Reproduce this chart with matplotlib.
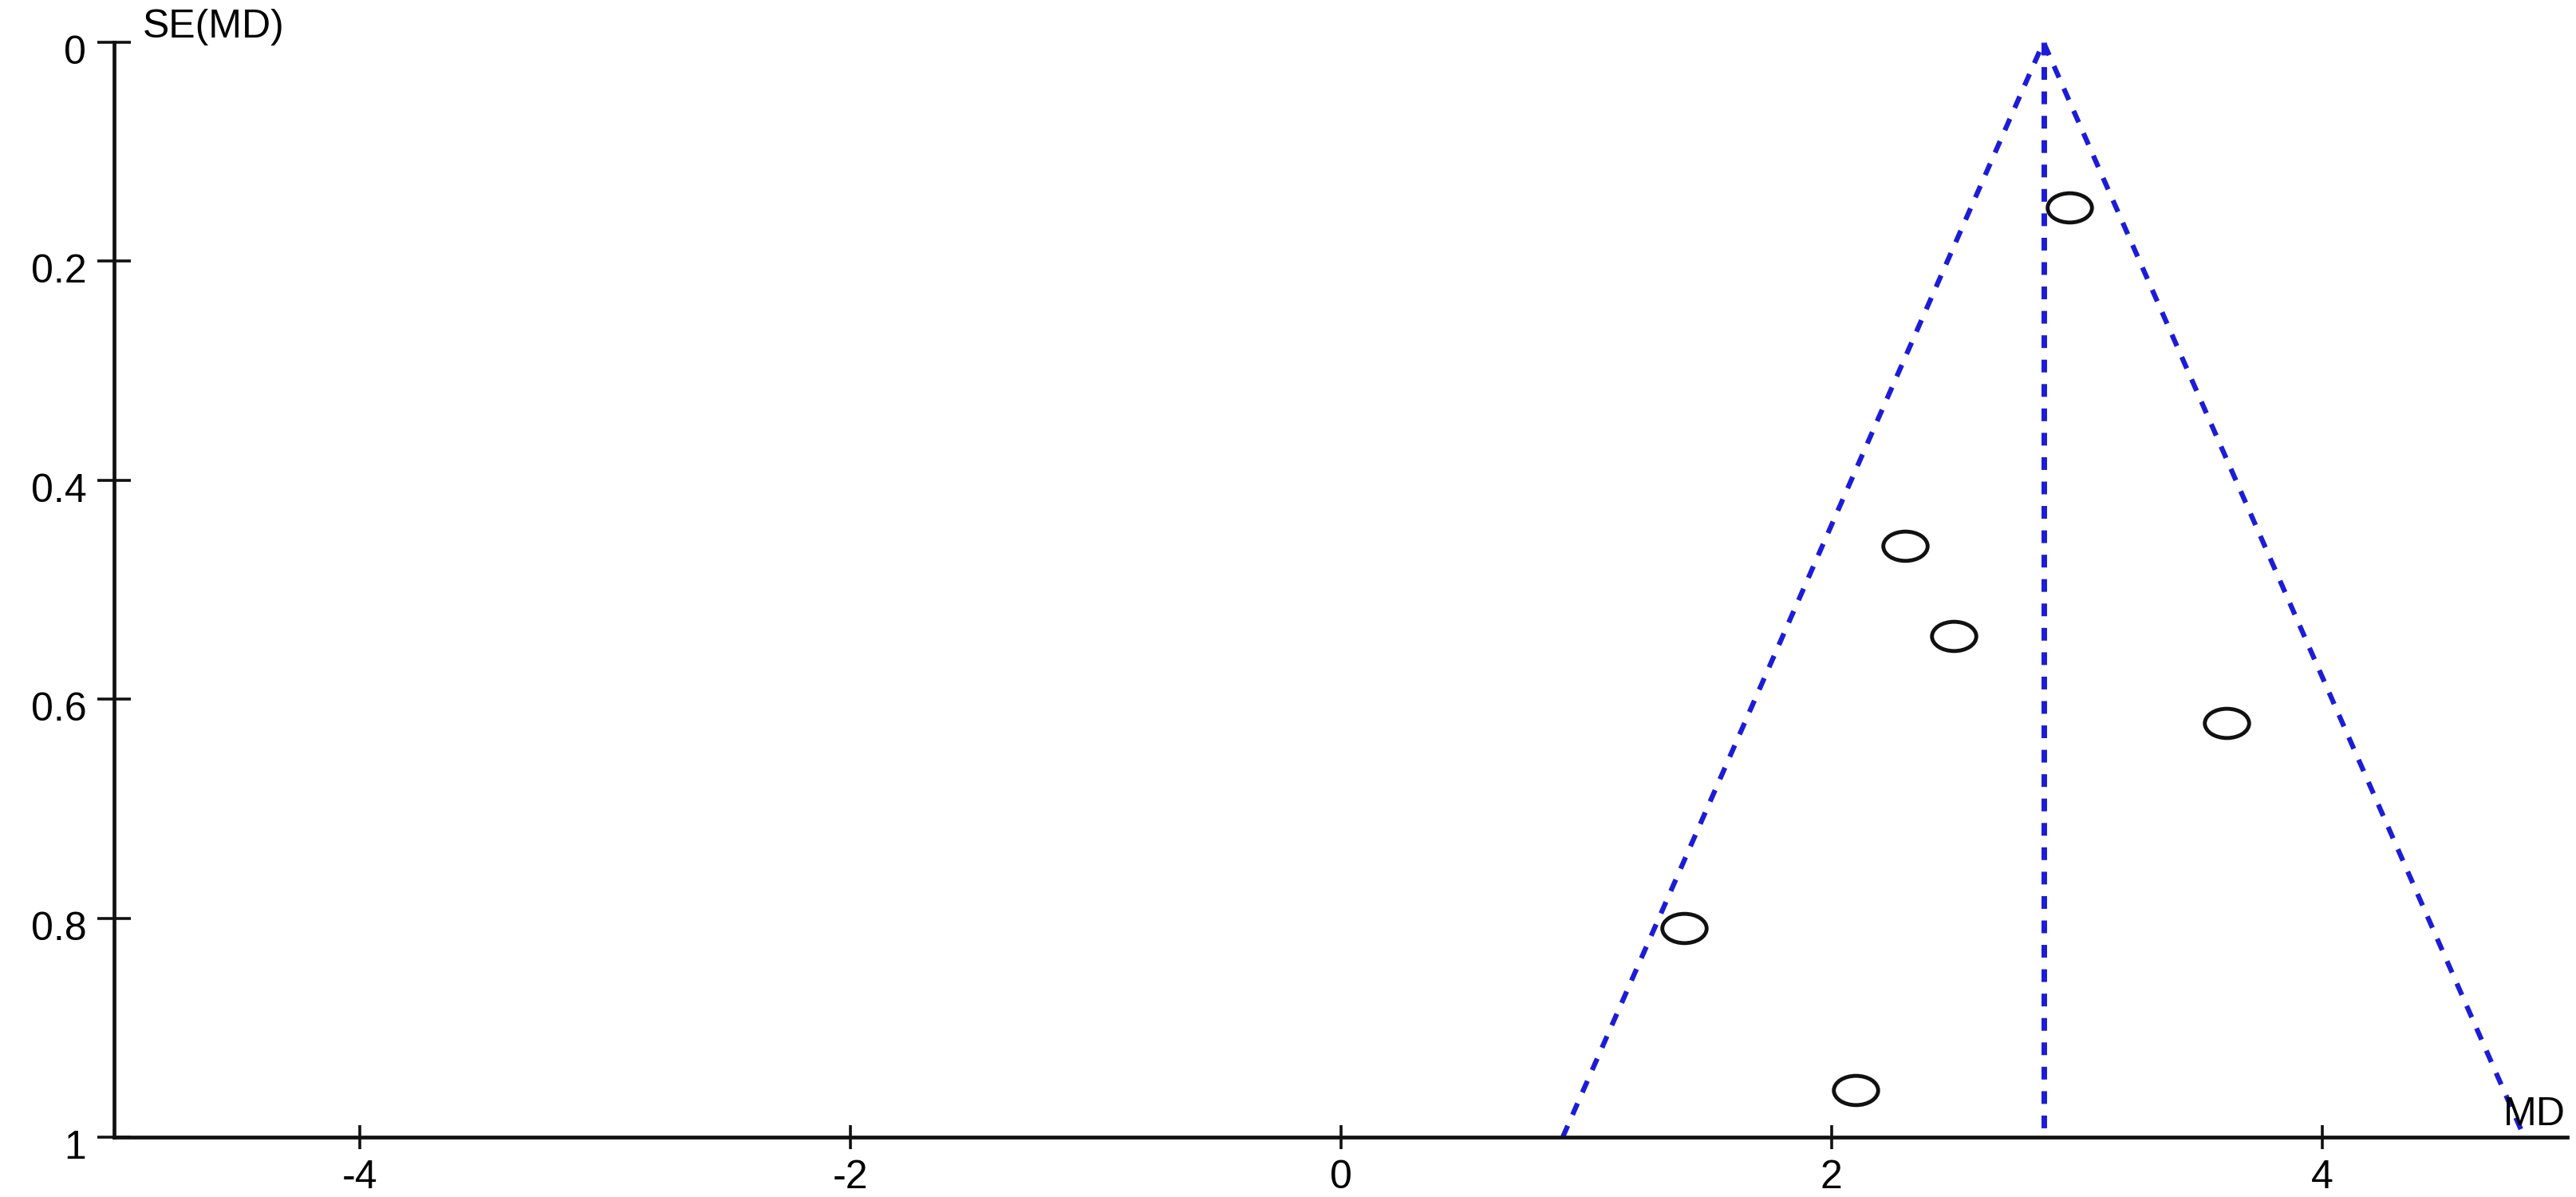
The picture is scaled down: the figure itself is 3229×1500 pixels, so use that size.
import matplotlib
matplotlib.use('Agg')
import matplotlib.pyplot as plt
import numpy as np
from matplotlib.path import Path
from matplotlib.transforms import ScaledTranslation

# ---- data ----
MD = [2.97, 2.30, 2.50, 3.61, 1.40, 2.10]
SE = [0.151, 0.460, 0.542, 0.622, 0.809, 0.957]
POOLED_MD = 2.865
SE_MAX = 1.0
X_TICKS = [-4, -2, 0, 2, 4]
Y_TICKS = [0, 0.2, 0.4, 0.6, 0.8, 1]

DPI = 100
BLUE = '#1c1cd8'
INK = '#111111'
FONT = ['Liberation Sans', 'DejaVu Sans']
FS = 36

plt.rcParams['font.family'] = FONT
plt.rcParams['axes.unicode_minus'] = False

fig = plt.figure(figsize=(32.3, 15), dpi=DPI)
ax = fig.add_axes([0.0443, 0.05, 0.9520, 0.9147])

# funnel (95% limits) and pooled line
ax.plot([POOLED_MD - 1.96 * SE_MAX, POOLED_MD, POOLED_MD + 1.96 * SE_MAX],
        [SE_MAX, 0, SE_MAX], color=BLUE, lw=4.5, dashes=(2.5, 2.4), zorder=2)
ax.plot([POOLED_MD, POOLED_MD], [0, SE_MAX], color=BLUE, lw=5.0,
        dashes=(2.3, 2.1), zorder=2)

# studies: open ellipses (the source image is stretched horizontally)
circ = Path.unit_circle()
ell = Path(circ.vertices * np.array([1.0, 0.66]), circ.codes)
ax.plot(MD, SE, linestyle='none', marker=ell, markersize=40,
        markerfacecolor='none', markeredgecolor=INK, markeredgewidth=3.5,
        zorder=3)

ax.set_xlim(-5, 5)
ax.set_ylim(1, 0)
ax.set_xticks(X_TICKS)
ax.set_yticks(Y_TICKS)
ax.set_yticklabels(['%g' % v for v in Y_TICKS])

for s in ['top', 'right']:
    ax.spines[s].set_visible(False)
for s in ['left', 'bottom']:
    ax.spines[s].set_linewidth(3.4)
    ax.spines[s].set_color(INK)

ax.tick_params(axis='x', direction='inout', length=22, width=2.6,
               pad=9, labelsize=FS, color=INK)
ax.tick_params(axis='y', direction='inout', length=30, width=2.6,
               pad=10, labelsize=FS, color=INK)

# y labels sit a little below their ticks in the original
for lab in ax.get_yticklabels():
    lab.set_transform(lab.get_transform() +
                      ScaledTranslation(0, -9 / DPI, fig.dpi_scale_trans))

ax.annotate('SE(MD)', xy=(-5, 0), xycoords='data', xytext=(26, 4),
            textcoords='offset points', ha='left', va='baseline', fontsize=FS)
ax.annotate('MD', xy=(5, 1), xycoords='data', xytext=(-2, 11),
            textcoords='offset points', ha='right', va='baseline', fontsize=FS)

fig.savefig('out.png', dpi=DPI)
